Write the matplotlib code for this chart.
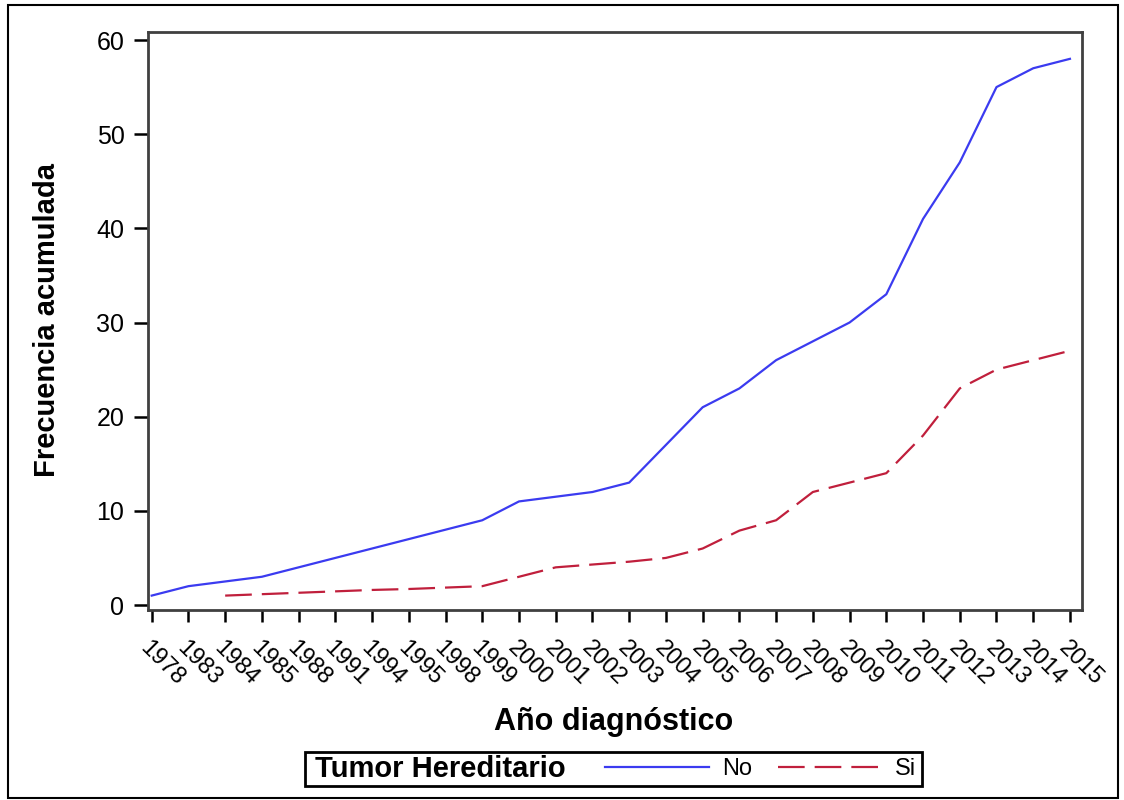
import matplotlib.pyplot as plt
import numpy as np
from matplotlib.lines import Line2D
from matplotlib.patches import Rectangle

plt.rcParams['font.family'] = ['Liberation Sans', 'DejaVu Sans']

# data
years = ['1978', '1983', '1984', '1985', '1988', '1991', '1994', '1995', '1998',
         '1999', '2000', '2001', '2002', '2003', '2004', '2005', '2006', '2007',
         '2008', '2009', '2010', '2011', '2012', '2013', '2014', '2015']
no_vals = [1, 2, 2.5, 3, 4, 5, 6, 7, 8, 9, 11, 11.5, 12, 13, 17, 21, 23, 26,
           28, 30, 33, 41, 47, 55, 57, 58]
si_vals = [np.nan, np.nan, 1, 1.15, 1.3, 1.45, 1.6, 1.7, 1.85, 2, 3, 4, 4.3,
           4.6, 5, 6, 7.9, 9, 12, 13, 14, 18, 23, 25, 26, 27]

blue = '#3b3bf0'
red = '#c01f3c'

fig = plt.figure(figsize=(11.24, 8), dpi=100)
ax = fig.add_axes([0.1317, 0.2375, 0.831, 0.7225])

x = np.arange(len(years))
ax.plot(x, no_vals, color=blue, linewidth=1.6, label='No')
ax.plot(x, si_vals, color=red, linewidth=1.6, dashes=(12, 4.5), label='Si')

ax.set_xlim(-0.1, 25.33)
ax.set_ylim(-0.53, 60.85)
ax.set_xticks(x)
ax.set_xticklabels(years)
ax.set_yticks([0, 10, 20, 30, 40, 50, 60])

for sp in ax.spines.values():
    sp.set_color('#404040')
    sp.set_linewidth(2)
ax.tick_params(axis='both', width=1.8, color='black')
ax.tick_params(axis='x', length=8.5, pad=11, labelsize=17)
ax.tick_params(axis='y', length=10, pad=7, labelsize=18)
plt.setp(ax.get_xticklabels(), rotation=-45, ha='left', va='top', rotation_mode='anchor')

ax.set_xlabel('Año diagnóstico', fontsize=22, fontweight='bold', va='center')
ax.set_ylabel('Frecuencia acumulada', fontsize=21, fontweight='bold', va='center')
ax.xaxis.set_label_coords(0.499, -0.194)
ax.yaxis.set_label_coords(-0.108, 0.502)

# legend box at the bottom
fig.patches.append(Rectangle((305 / 1124, 1 - 786 / 800), 617 / 1124, 34 / 800,
                             transform=fig.transFigure, fill=False,
                             edgecolor='black', linewidth=2))
fig.text(315 / 1124, 1 - 769 / 800, 'Tumor Hereditario', fontsize=21,
         fontweight='bold', va='center', ha='left')
handles = [Line2D([0], [0], color=blue, linewidth=1.6),
           Line2D([0], [0], color=red, linewidth=1.6, dashes=(12, 4.5))]
fig.legend(handles=handles, labels=['No', 'Si'], loc='center left',
           bbox_to_anchor=(605 / 1124, 1 - 769 / 800), ncol=2, frameon=False,
           fontsize=17, handlelength=4.4, handletextpad=0.55, columnspacing=1.1,
           borderpad=0, borderaxespad=0)

# outer border
fig.patches.append(Rectangle((8 / 1124, 2 / 800), 1110 / 1124, 793 / 800,
                             transform=fig.transFigure, fill=False,
                             edgecolor='black', linewidth=1.5))

plt.savefig('out.png', dpi=100)
